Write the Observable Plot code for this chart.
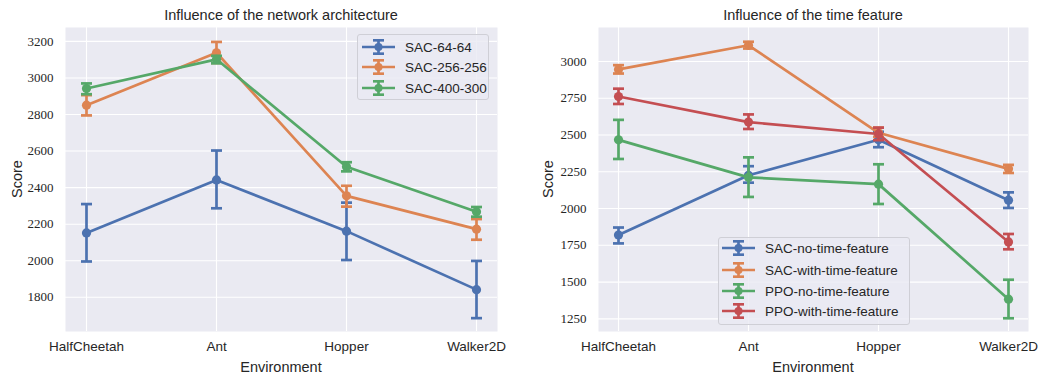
<!DOCTYPE html>
<html><head><meta charset="utf-8">
<script src="https://cdn.jsdelivr.net/npm/d3@7"></script>
<script src="https://cdn.jsdelivr.net/npm/@observablehq/plot@0.6"></script>
<style>
body{margin:0;background:#fff;}
#wrap{position:relative;width:1044px;height:377px;overflow:hidden;font-family:"Liberation Sans",sans-serif;color:#262626;}
.panel{position:absolute;top:0;}
.lbl{position:absolute;font-size:14.5px;white-space:nowrap;transform:translate(-50%,-50%);line-height:1;}
.rot{transform:translate(-50%,-50%) rotate(-90deg);}
.legend{position:absolute;border:1px solid #cfcfd6;border-radius:3px;background:rgba(234,234,242,0.8);box-sizing:border-box;}
.row{position:absolute;left:0;height:16px;display:flex;align-items:center;font-size:13.5px;white-space:nowrap;}
.row svg{margin-right:10px;}
text.ytick{font-family:"Liberation Serif","DejaVu Serif",serif !important;font-size:13px !important;}
text.xtick{font-family:"Liberation Sans",sans-serif !important;font-size:13.5px !important;}
</style>
</head><body>
<div id="wrap"></div>
<script>
// ---------- data ----------
const envs = ["HalfCheetah", "Ant", "Hopper", "Walker2D"];

// Left panel: network architecture
const archNames = ["SAC-64-64", "SAC-256-256", "SAC-400-300"];
const sac64Mean = [2152, 2442, 2162, 1842];
const sac64Lo   = [1996, 2287, 2004, 1686];
const sac64Hi   = [2310, 2603, 2318, 1999];
const sac256Mean = [2851, 3138, 2355, 2173];
const sac256Lo   = [2795, 3082, 2296, 2115];
const sac256Hi   = [2906, 3197, 2410, 2228];
const sac400Mean = [2942, 3102, 2514, 2268];
const sac400Lo   = [2911, 3080, 2489, 2241];
const sac400Hi   = [2970, 3121, 2539, 2294];
const leftTicks = [1800, 2000, 2200, 2400, 2600, 2800, 3000, 3200];

// Right panel: time feature
const timeNames = ["SAC-no-time-feature", "SAC-with-time-feature", "PPO-no-time-feature", "PPO-with-time-feature"];
const sacNoMean = [1820, 2226, 2468, 2057];
const sacNoLo   = [1763, 2176, 2417, 2004];
const sacNoHi   = [1871, 2288, 2522, 2110];
const sacWithMean = [2946, 3110, 2515, 2270];
const sacWithLo   = [2918, 3088, 2488, 2242];
const sacWithHi   = [2975, 3134, 2550, 2297];
const ppoNoMean = [2467, 2212, 2166, 1384];
const ppoNoLo   = [2337, 2079, 2031, 1254];
const ppoNoHi   = [2603, 2348, 2301, 1516];
const ppoWithMean = [2762, 2588, 2507, 1773];
const ppoWithLo   = [2711, 2541, 2465, 1723];
const ppoWithHi   = [2815, 2640, 2550, 1827];
const rightTicks = [1250, 1500, 1750, 2000, 2250, 2500, 2750, 3000];

const colors = ["#4C72B0", "#DD8452", "#55A868", "#C44E52"];

// ---------- drawing ----------
const capSymbol = {draw(ctx, size) { const w = Math.sqrt(size / Math.PI); ctx.moveTo(-w, 0); ctx.lineTo(w, 0); }};

function seriesMarks(mean, lo, hi, color) {
  const rows = envs.map((e, i) => ({env: e, m: mean[i], lo: lo[i], hi: hi[i]}));
  return [
    Plot.ruleX(rows, {x: "env", y1: "lo", y2: "hi", stroke: color, strokeWidth: 2.7}),
    Plot.dot(rows, {x: "env", y: "lo", symbol: capSymbol, r: 5.5, fill: "none", stroke: color, strokeWidth: 2.7}),
    Plot.dot(rows, {x: "env", y: "hi", symbol: capSymbol, r: 5.5, fill: "none", stroke: color, strokeWidth: 2.7}),
    Plot.line(rows, {x: "env", y: "m", stroke: color, strokeWidth: 2.7, strokeLinejoin: "round"}),
    Plot.dot(rows, {x: "env", y: "m", r: 4.6, fill: color, stroke: "none"})
  ];
}

function panel({width, marginLeft, marginRight, domain, ticks, series}) {
  const svg = Plot.plot({
    width, height: 377,
    marginLeft, marginRight, marginTop: 27, marginBottom: 46,
    style: {background: "transparent", color: "#262626", overflow: "visible"},
    x: {type: "point", domain: envs, padding: 0.15, label: null},
    y: {domain, nice: false, label: null},
    marks: [
      Plot.frame({fill: "#EAEAF2", stroke: null}),
      Plot.gridX({stroke: "white", strokeOpacity: 1, strokeWidth: 1.1}),
      Plot.gridY({ticks, stroke: "white", strokeOpacity: 1, strokeWidth: 1.1}),
      Plot.axisY({ticks, tickSize: 0, tickPadding: 12, label: null, tickFormat: d => String(d)}),
      Plot.axisX({tickSize: 0, tickPadding: 10, label: null}),
      ...series.flatMap(s => seriesMarks(...s))
    ]
  });
  const tickStrings = ticks.map(String);
  d3.select(svg).selectAll("text").each(function() {
    const t = this.textContent;
    if (tickStrings.includes(t)) {
      this.classList.add("ytick");
      this.setAttribute("font-family", "Liberation Serif");
    } else if (envs.includes(t)) {
      this.classList.add("xtick");
    }
  });
  return svg;
}

const wrap = document.getElementById("wrap");

const left = panel({
  width: 520, marginLeft: 65, marginRight: 23,
  domain: [1613, 3276], ticks: leftTicks,
  series: [
    [sac64Mean, sac64Lo, sac64Hi, colors[0]],
    [sac256Mean, sac256Lo, sac256Hi, colors[1]],
    [sac400Mean, sac400Lo, sac400Hi, colors[2]]
  ]
});
left.classList.add("panel"); left.style.left = "0px";
wrap.appendChild(left);

const right = panel({
  width: 524, marginLeft: 78, marginRight: 16,
  domain: [1164, 3231], ticks: rightTicks,
  series: [
    [sacNoMean, sacNoLo, sacNoHi, colors[0]],
    [sacWithMean, sacWithLo, sacWithHi, colors[1]],
    [ppoNoMean, ppoNoLo, ppoNoHi, colors[2]],
    [ppoWithMean, ppoWithLo, ppoWithHi, colors[3]]
  ]
});
right.classList.add("panel"); right.style.left = "520px";
wrap.appendChild(right);

function label(text, x, y, rot) {
  const d = document.createElement("div");
  d.className = "lbl" + (rot ? " rot" : "");
  d.textContent = text; d.style.left = x + "px"; d.style.top = y + "px";
  wrap.appendChild(d);
}
label("Influence of the network architecture", 281, 15);
label("Influence of the time feature", 813, 15);
label("Environment", 281, 367);
label("Environment", 813, 367);
label("Score", 17, 179, true);
label("Score", 548, 179, true);

function glyph(color) {
  return `<svg width="33" height="16" viewBox="0 0 33 16">
    <line x1="0" y1="8" x2="33" y2="8" stroke="${color}" stroke-width="2.7"/>
    <line x1="16.5" y1="1.3" x2="16.5" y2="14.7" stroke="${color}" stroke-width="2.7"/>
    <line x1="11" y1="1.3" x2="22" y2="1.3" stroke="${color}" stroke-width="2.7"/>
    <line x1="11" y1="14.7" x2="22" y2="14.7" stroke="${color}" stroke-width="2.7"/>
    <circle cx="16.5" cy="8" r="4" fill="${color}"/></svg>`;
}
function legend(names, x, y, w, h, rowTops, padLeft) {
  const box = document.createElement("div");
  box.className = "legend";
  Object.assign(box.style, {left: x + "px", top: y + "px", width: w + "px", height: h + "px"});
  names.forEach((n, i) => {
    const r = document.createElement("div");
    r.className = "row";
    r.style.top = (rowTops[i] - 8) + "px";
    r.style.left = padLeft + "px";
    r.innerHTML = glyph(colors[i]) + `<span>${n}</span>`;
    box.appendChild(r);
  });
  wrap.appendChild(box);
}
legend(archNames, 357, 34, 132, 66, [12, 32, 53], 4);
legend(timeNames, 718, 237, 192, 88, [10, 32, 53, 73], 3);
</script>
</body></html>
